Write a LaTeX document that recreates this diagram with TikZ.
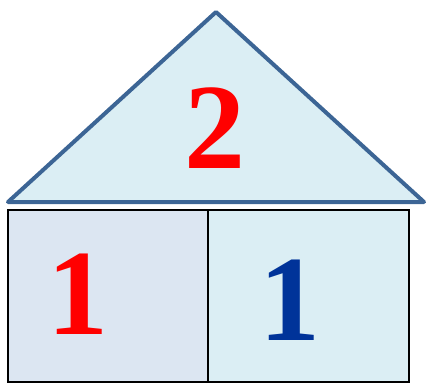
\documentclass[tikz,border=0pt]{standalone}
\usepackage{fontspec}
\setmainfont{Liberation Serif}
\definecolor{roofline}{HTML}{3C6595}
\definecolor{roofbg}{HTML}{DBEEF4}
\definecolor{leftbg}{HTML}{DCE6F2}
\definecolor{numblue}{HTML}{003399}
\tikzset{
  digit/.style={font=\fontsize{122}{122}\selectfont\bfseries, inner sep=0pt},
  cell/.style={draw=black, line width=2pt}
}
\begin{document}
\begin{tikzpicture}[x=1pt, y=-1pt]
  \useasboundingbox (0,0) rectangle (426,384);
  % roof
  \draw[fill=roofbg, draw=roofline, line width=4pt, line join=round] (8,202) -- (216,12) -- (424,202) -- cycle;
  \node[digit, text=red] (two) at (215,128) {2};
  % cells
  \draw[cell, fill=leftbg] (8,210) rectangle (208,382);
  \draw[cell, fill=roofbg] (208,210) rectangle (409,382);
  \node[digit, text=red] (left) at (78,294) {1};
  \node[digit, text=numblue] (right) at (290,300) {1};
\end{tikzpicture}
\end{document}
